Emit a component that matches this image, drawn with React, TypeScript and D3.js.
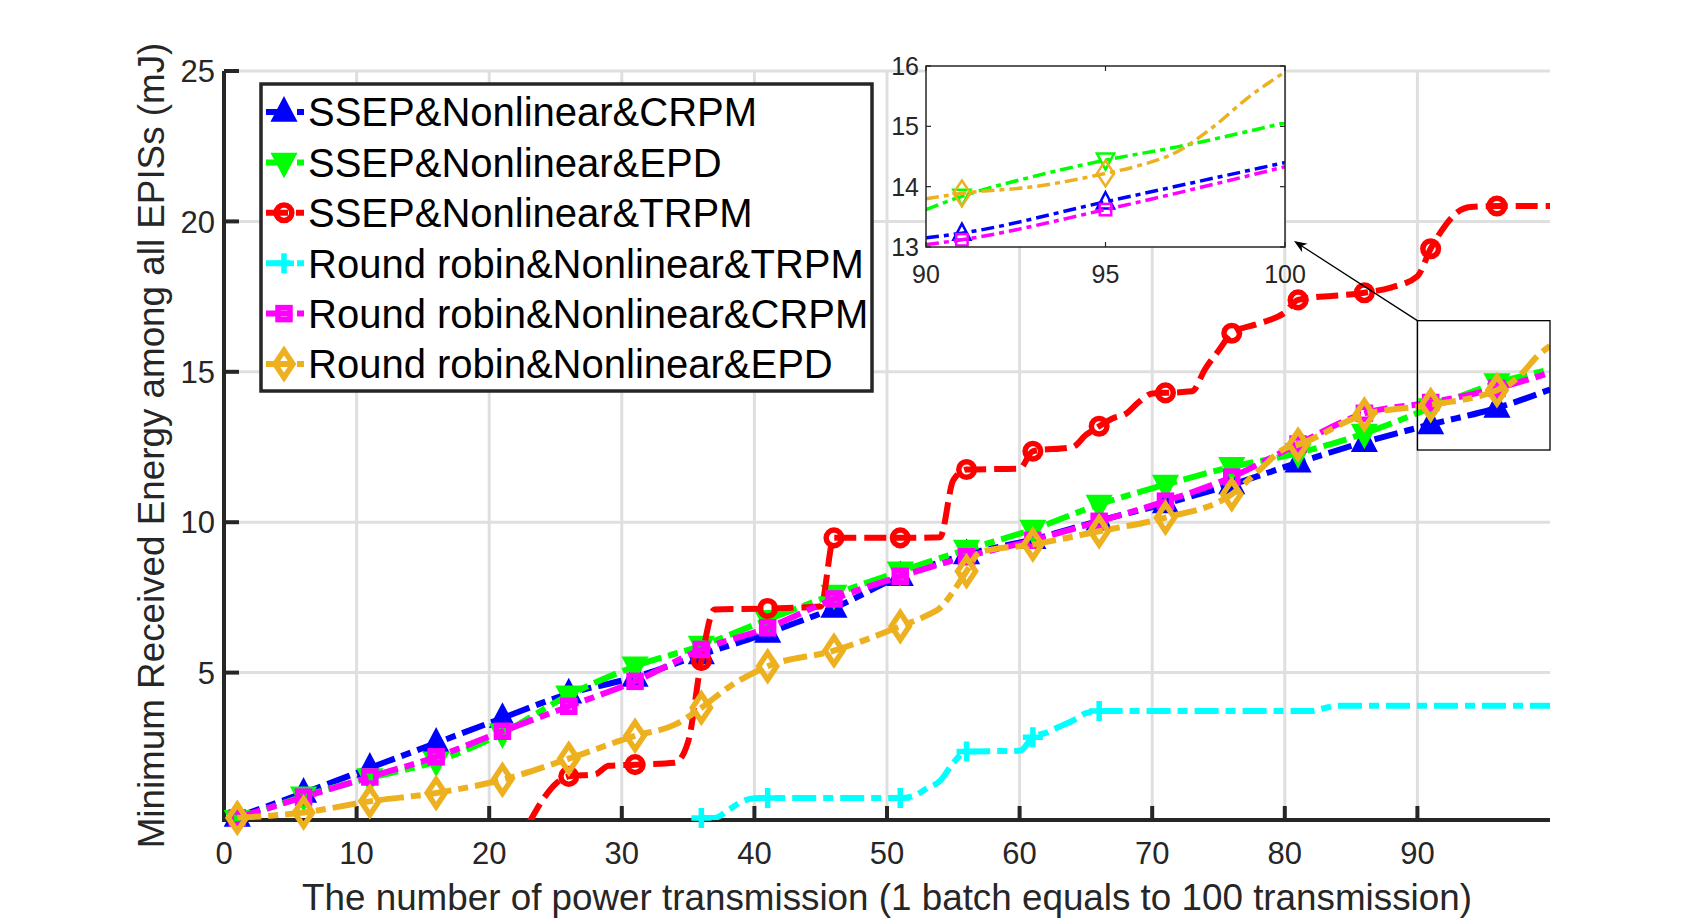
import React from 'react';
import * as d3 from 'd3';

type Pt = [number, number];

const W = 1706;
const H = 922;

// axes ticks
const xTicks = [0, 10, 20, 30, 40, 50, 60, 70, 80, 90];
const yTicks = [5, 10, 15, 20, 25];
const insetXTicks = [90, 95, 100];
const insetYTicks = [13, 14, 15, 16];

// markers are put every 5 transmissions
const markerXs = [1, 6, 11, 16, 21, 26, 31, 36, 41, 46, 51, 56, 61, 66, 71, 76, 81, 86, 91, 96];
const insetMarkerXs = [91, 95];

const legendNames = [
  'SSEP&Nonlinear&CRPM',
  'SSEP&Nonlinear&EPD',
  'SSEP&Nonlinear&TRPM',
  'Round robin&Nonlinear&TRPM',
  'Round robin&Nonlinear&CRPM',
  'Round robin&Nonlinear&EPD',
];

// values (mJ)
const ssepCrpm: Pt[] = [[1, 0.2], [6, 1.0], [11, 1.83], [16, 2.66], [21, 3.49], [26, 4.3], [31, 4.85], [36, 5.6], [41, 6.32], [46, 7.15], [51, 8.2], [56, 8.93], [61, 9.43], [66, 10.05], [71, 10.62], [76, 11.25], [81, 11.98], [86, 12.66], [91, 13.25], [96, 13.8], [100, 14.41]];
const ssepEpd: Pt[] = [[1, 0.11], [6, 0.89], [11, 1.5], [16, 2.05], [21, 2.99], [26, 4.25], [31, 5.21], [36, 5.9], [41, 6.76], [46, 7.6], [51, 8.37], [56, 9.09], [61, 9.76], [66, 10.59], [71, 11.25], [76, 11.84], [81, 12.3], [86, 12.95], [91, 13.8], [96, 14.63], [100, 15.08]];
const ssepTrpm: Pt[] = [[23, 0.0], [24, 0.75], [25, 1.3], [26, 1.55], [28, 1.62], [29, 1.9], [31, 1.94], [34, 2.0], [35, 2.7], [36, 5.4], [37, 7.1], [41, 7.13], [45, 7.2], [46, 9.48], [51, 9.48], [54, 9.5], [55, 11.4], [56, 11.75], [60, 11.78], [61, 12.36], [64, 12.5], [65, 12.9], [66, 13.19], [67, 13.45], [68, 13.6], [69, 14.0], [70, 14.28], [71, 14.3], [73, 14.35], [74, 15.1], [75, 15.7], [76, 16.28], [78, 16.6], [80, 16.97], [81, 17.39], [86, 17.63], [88, 17.8], [90, 18.18], [91, 19.09], [92, 19.8], [93, 20.3], [94, 20.48], [96, 20.51], [100, 20.51]];
const rrTrpm: Pt[] = [[36, 0.17], [37, 0.17], [38, 0.42], [39, 0.7], [40, 0.82], [41, 0.83], [51, 0.83], [52, 0.9], [53, 1.15], [54, 1.4], [55, 2.0], [56, 2.38], [60, 2.4], [61, 2.85], [62, 3.0], [63, 3.2], [64, 3.4], [65, 3.65], [66, 3.72], [82, 3.72], [83, 3.82], [84, 3.9], [100, 3.9]];
const rrCrpm: Pt[] = [[1, 0.17], [6, 0.86], [11, 1.53], [16, 2.2], [21, 3.05], [26, 3.88], [31, 4.71], [36, 5.77], [41, 6.49], [46, 7.45], [51, 8.2], [56, 8.85], [61, 9.4], [66, 10.03], [71, 10.7], [76, 11.5], [81, 12.6], [86, 13.62], [91, 13.98], [96, 14.45], [100, 14.97]];
const rrEpd: Pt[] = [[1, 0.17], [6, 0.35], [11, 0.72], [16, 1.0], [21, 1.44], [26, 2.14], [31, 2.9], [34, 3.27], [36, 3.83], [38, 4.5], [41, 5.21], [46, 5.73], [51, 6.54], [53, 6.9], [54, 7.15], [55, 7.7], [56, 8.37], [57, 9.0], [61, 9.26], [66, 9.7], [71, 10.15], [76, 10.93], [78, 11.7], [80, 12.45], [81, 12.58], [86, 13.58], [91, 13.9], [96, 14.39], [97, 14.6], [98, 15.0], [99, 15.5], [100, 15.86]];

// zoomed inset (90..100)
const insetCrpm: Pt[] = [[90, 13.15], [91, 13.23], [95, 13.75], [100, 14.4]];
const insetEpd: Pt[] = [[90, 13.62], [91, 13.84], [93, 14.17], [95, 14.44], [97, 14.66], [100, 15.06]];
const insetRrCrpm: Pt[] = [[90, 13.04], [91, 13.12], [95, 13.62], [100, 14.33]];
const insetRrEpd: Pt[] = [[90, 13.8], [91, 13.89], [93, 14.0], [95, 14.22], [96, 14.36], [97, 14.58], [98, 14.99], [99, 15.49], [100, 15.9]];

const DASHDOT = '24 7 10 7';
const DASHED = '22 8';

const series = [
  { name: legendNames[0], color: '#0000ff', dash: DASHDOT, marker: 'up', data: ssepCrpm, inset: insetCrpm },
  { name: legendNames[1], color: '#00ff00', dash: DASHDOT, marker: 'down', data: ssepEpd, inset: insetEpd },
  { name: legendNames[2], color: '#ff0000', dash: DASHED, marker: 'circle', data: ssepTrpm, inset: null },
  { name: legendNames[3], color: '#00ffff', dash: DASHDOT, marker: 'plus', data: rrTrpm, inset: null },
  { name: legendNames[4], color: '#ff00ff', dash: DASHDOT, marker: 'square', data: rrCrpm, inset: insetRrCrpm },
  { name: legendNames[5], color: '#edb120', dash: DASHDOT, marker: 'diamond', data: rrEpd, inset: insetRrEpd },
];

const FONT = "'Liberation Sans', Arial, Helvetica, sans-serif";
const AXC = '#262626';

// main plot box
const x = d3.scaleLinear().domain([0, 100]).range([224, 1550]);
const y = d3.scaleLinear().domain([0.1, 25]).range([820, 71]);
// inset box
const xi = d3.scaleLinear().domain([90, 100]).range([926, 1285]);
const yi = d3.scaleLinear().domain([13, 16]).range([247, 66]);

function Marker({ type, cx, cy, color, sw, filled, k = 1 }: any) {
  const t = `translate(${cx},${cy}) scale(${k})`;
  const common = { stroke: color, strokeWidth: sw / k, strokeLinejoin: 'miter' as const };
  if (type === 'up')
    return <path transform={t} d="M0,-10L9,7L-9,7Z" fill={filled ? color : 'none'} {...common} />;
  if (type === 'down')
    return <path transform={t} d="M0,10L9,-7L-9,-7Z" fill={filled ? color : 'none'} {...common} />;
  if (type === 'circle') return <circle transform={t} r={7.8} fill="none" {...common} />;
  if (type === 'plus') return <path transform={t} d="M-10,0H10M0,-10V10" fill="none" {...common} />;
  if (type === 'square') return <rect transform={t} x={-6} y={-6} width={12} height={12} fill="none" {...common} />;
  return <path transform={t} d="M0,-13.5L9,0L0,13.5L-9,0Z" fill="none" {...common} />;
}

export default function App() {
  const line = d3.line<Pt>().x(d => x(d[0])).y(d => y(d[1])).curve(d3.curveMonotoneX);
  const lineIn = d3.line<Pt>().x(d => xi(d[0])).y(d => yi(d[1])).curve(d3.curveMonotoneX);

  const [x0, x1] = x.range();
  const [yb, yt] = y.range();

  // zoom rectangle and arrow
  const rx0 = x(90), rx1 = x(100), ry0 = y(16.7), ry1 = y(12.4);
  const tipX = xi(100) + 9, tipY = yi(13) - 6;
  const ang = Math.atan2(tipY - ry0, tipX - rx0);
  const head = (l: number, w: number) => {
    const c = Math.cos(ang), s = Math.sin(ang);
    const bx = tipX - l * c, by = tipY - l * s;
    const nx = tipX - l * 0.7 * c, ny = tipY - l * 0.7 * s;
    return `M${tipX},${tipY}L${bx - w * s},${by + w * c}L${nx},${ny}L${bx + w * s},${by - w * c}Z`;
  };

  const legX = 261, legY = 84, legW = 611, legH = 307, rowH = 50.4;

  return (
    <svg width={W} height={H} style={{ position: 'absolute', left: 0, top: 0, background: '#fff' }} fontFamily={FONT}>
      <defs>
        <clipPath id="mainClip"><rect x={x0} y={yt} width={x1 - x0} height={yb - yt} /></clipPath>
        <clipPath id="insetClip"><rect x={xi(90)} y={yi(16)} width={xi(100) - xi(90)} height={yi(13) - yi(16)} /></clipPath>
      </defs>

      {/* grid */}
      <g stroke="#dfdfdf" strokeWidth={3}>
        {xTicks.filter(t => t > 0).map(t => <line key={'gx' + t} x1={x(t)} x2={x(t)} y1={yb} y2={yt} />)}
        {yTicks.map(t => <line key={'gy' + t} x1={x0} x2={x1} y1={y(t)} y2={y(t)} />)}
      </g>

      {/* axes */}
      <g stroke={AXC} strokeWidth={4}>
        <line x1={x0} x2={x1} y1={yb} y2={yb} />
        <line x1={x0} x2={x0} y1={yb + 2} y2={yt} />
        {xTicks.filter(t => t > 0).map(t => <line key={'tx' + t} x1={x(t)} x2={x(t)} y1={yb} y2={yb - 14} />)}
        {yTicks.map(t => <line key={'ty' + t} x1={x0} x2={x0 + 15} y1={y(t)} y2={y(t)} />)}
      </g>
      <g fill={AXC} fontSize={31}>
        {xTicks.map(t => <text key={'lx' + t} x={x(t)} y={864} textAnchor="middle">{t}</text>)}
        {yTicks.map(t => <text key={'ly' + t} x={x0 - 9} y={y(t)} dy="0.36em" textAnchor="end">{t}</text>)}
      </g>
      <text x={(x0 + x1) / 2} y={910} textAnchor="middle" fontSize={36.8} fill={AXC}>
        The number of power transmission (1 batch equals to 100 transmission)
      </text>
      <text transform={`translate(164,${(yb + yt) / 2}) rotate(-90)`} textAnchor="middle" fontSize={36.8} fill={AXC}>
        Minimum Received Energy among all EPISs (mJ)
      </text>

      {/* series */}
      {series.map(s => (
        <g key={s.name}>
          <path d={line(s.data) || ''} fill="none" stroke={s.color} strokeWidth={6} strokeDasharray={s.dash}
            clipPath="url(#mainClip)" />
          {s.data.filter(d => markerXs.includes(d[0])).map(d => (
            <Marker key={d[0]} type={s.marker} cx={x(d[0])} cy={y(d[1])} color={s.color} sw={5.5}
              filled={s.marker === 'up' || s.marker === 'down'} />
          ))}
        </g>
      ))}

      {/* zoom box + arrow */}
      <rect x={rx0} y={ry0} width={rx1 - rx0} height={ry1 - ry0} fill="none" stroke="#000" strokeWidth={1.3} />
      <line x1={rx0} y1={ry0} x2={tipX - 6 * Math.cos(ang)} y2={tipY - 6 * Math.sin(ang)} stroke="#000" strokeWidth={1.3} />
      <path d={head(13, 5)} fill="#000" />

      {/* legend */}
      <rect x={legX} y={legY} width={legW} height={legH} fill="#fff" stroke={AXC} strokeWidth={3.5} />
      {series.map((s, i) => {
        const cy = legY + 28 + i * rowH;
        return (
          <g key={'lg' + i}>
            <line x1={legX + 5} x2={legX + 43} y1={cy} y2={cy} stroke={s.color} strokeWidth={6} strokeDasharray={s.dash} />
            <Marker type={s.marker} cx={legX + 23} cy={cy} color={s.color} sw={5.5}
              filled={s.marker === 'up' || s.marker === 'down'} />
            <text x={legX + 47} y={cy} dy="0.36em" fontSize={40} fill="#000">{s.name}</text>
          </g>
        );
      })}

      {/* inset */}
      <rect x={xi(90)} y={yi(16)} width={xi(100) - xi(90)} height={yi(13) - yi(16)} fill="#fff" />
      {series.filter(s => s.inset).map(s => (
        <g key={'in' + s.name}>
          <path d={lineIn(s.inset as Pt[]) || ''} fill="none" stroke={s.color} strokeWidth={3.5}
            strokeDasharray="13 5 5 5" clipPath="url(#insetClip)" />
          {(s.inset as Pt[]).filter(d => insetMarkerXs.includes(d[0])).map(d => (
            <Marker key={d[0]} type={s.marker} cx={xi(d[0])} cy={yi(d[1])} color={s.color} sw={2.5} filled={false} k={0.95} />
          ))}
        </g>
      ))}
      <rect x={xi(90)} y={yi(16)} width={xi(100) - xi(90)} height={yi(13) - yi(16)} fill="none" stroke={AXC} strokeWidth={1.5} />
      <g stroke={AXC} strokeWidth={1.2}>
        {insetXTicks.map(t => (
          <g key={'itx' + t}>
            <line x1={xi(t)} x2={xi(t)} y1={yi(13)} y2={yi(13) - 5} />
            <line x1={xi(t)} x2={xi(t)} y1={yi(16)} y2={yi(16) + 5} />
          </g>
        ))}
        {insetYTicks.map(t => (
          <g key={'ity' + t}>
            <line x1={xi(90)} x2={xi(90) + 5} y1={yi(t)} y2={yi(t)} />
            <line x1={xi(100)} x2={xi(100) - 5} y1={yi(t)} y2={yi(t)} />
          </g>
        ))}
      </g>
      <g fill={AXC} fontSize={25}>
        {insetXTicks.map(t => <text key={'ilx' + t} x={xi(t)} y={283} textAnchor="middle">{t}</text>)}
        {insetYTicks.map(t => <text key={'ily' + t} x={xi(90) - 7} y={yi(t)} dy="0.36em" textAnchor="end">{t}</text>)}
      </g>
    </svg>
  );
}
